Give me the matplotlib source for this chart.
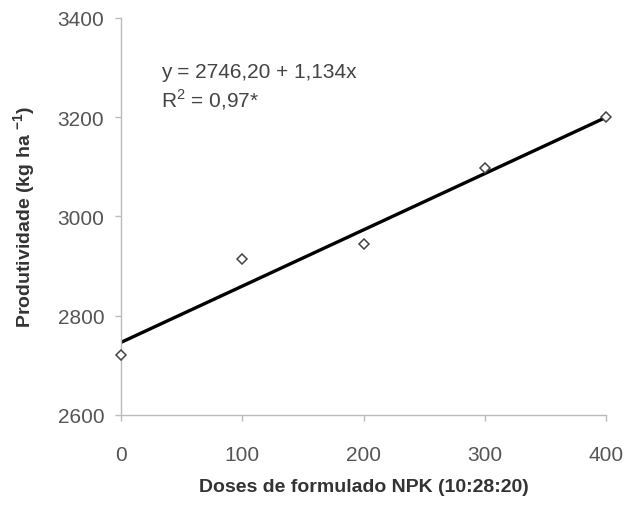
import matplotlib
matplotlib.use('Agg')
import matplotlib.pyplot as plt
import numpy as np

plt.rcParams['font.family'] = ['Liberation Sans', 'DejaVu Sans']
plt.rcParams['mathtext.fontset'] = 'custom'
plt.rcParams['mathtext.rm'] = 'Liberation Sans'
plt.rcParams['mathtext.bf'] = 'Liberation Sans:bold'

# dados
doses = [0, 100, 200, 300, 400]
produtividade = [2720, 2915, 2945, 3097, 3200]
a, b = 2746.20, 1.134
yticks = [2600, 2800, 3000, 3200, 3400]
xticks = [0, 100, 200, 300, 400]

fig = plt.figure(figsize=(6.38, 5.06), dpi=100)
ax = fig.add_axes([0.1897, 0.178, 0.7603, 0.7845])

xl = np.array([0, 400])
ax.plot(xl, a + b * xl, color='black', lw=2.4, solid_capstyle='butt', zorder=2)
ax.plot(doses, produtividade, linestyle='none', marker='D', markersize=5.5,
        markerfacecolor='white', markeredgecolor='#444444', markeredgewidth=1.1,
        zorder=3, clip_on=False)

ax.set_xlim(0, 400)
ax.set_ylim(2600, 3400)
ax.set_xticks(xticks)
ax.set_yticks(yticks)
for s in ['top', 'right']:
    ax.spines[s].set_visible(False)
for s in ['left', 'bottom']:
    ax.spines[s].set_color('#bbbbbb')
    ax.spines[s].set_linewidth(1.0)
ax.tick_params(direction='out', length=4, width=1, color='#bbbbbb',
               labelsize=15, labelcolor='#555555')
ax.tick_params(axis='y', pad=8)
ax.tick_params(axis='x', pad=18)

ax.set_xlabel('Doses de formulado NPK (10:28:20)', fontsize=14, fontweight='bold',
              color='#333333', labelpad=10)
ax.set_ylabel(r'Produtividade (kg ha $^{\mathbf{-1}}$)', fontsize=14, fontweight='bold',
              color='#333333', labelpad=14)

ax.text(33, 3293, 'y = 2746,20 + 1,134x', fontsize=15, color='#444444', va='center')
ax.text(33, 3237, 'R$^2$ = 0,97*', fontsize=15, color='#444444', va='center')

fig.savefig('out.png', dpi=100, facecolor='white')
